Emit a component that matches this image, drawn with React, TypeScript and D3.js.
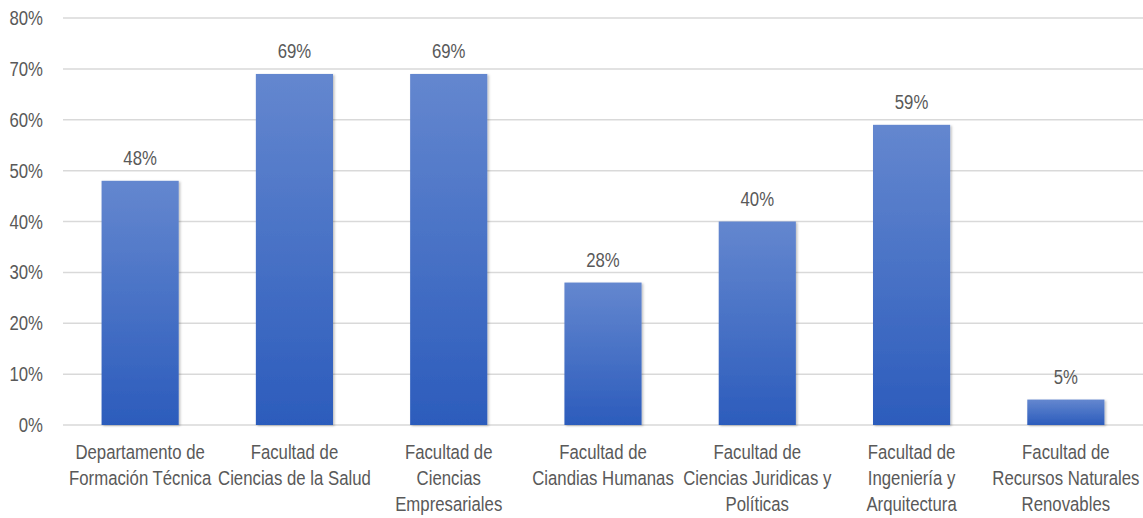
import React from "react";
import * as d3 from "d3";

const categories: string[][] = [
  ["Departamento de", "Formación Técnica"],
  ["Facultad de", "Ciencias de la Salud"],
  ["Facultad de", "Ciencias", "Empresariales"],
  ["Facultad de", "Ciandias Humanas"],
  ["Facultad de", "Ciencias Juridicas y", "Políticas"],
  ["Facultad de", "Ingeniería y", "Arquitectura"],
  ["Facultad de", "Recursos Naturales", "Renovables"],
];
const values: number[] = [48, 69, 69, 28, 40, 59, 5];
const yTicks: number[] = [0, 10, 20, 30, 40, 50, 60, 70, 80];

const W = 1143;
const H = 518;
const margin = { left: 63, right: 0, top: 18, bottom: 93 };
const FONT = "'Liberation Sans', Arial, sans-serif";
const FS = 19.5;
const SX = 0.86;
const TXT = "#595959";

function NText({ x, y, lines, anchor = "middle", dy = 0, lh = 26 }: { x: number; y: number; lines: string[]; anchor?: string; dy?: number; lh?: number }) {
  return (
    <text
      transform={`translate(${x},${y}) scale(${SX},1)`}
      textAnchor={anchor}
      fontSize={FS}
      fill={TXT}
      fontFamily={FONT}
    >
      {lines.map((l, j) => (
        <tspan key={j} x={0} y={j * lh + dy}>
          {l}
        </tspan>
      ))}
    </text>
  );
}

export default function App() {
  const x = d3
    .scaleBand<number>()
    .domain(values.map((_, i) => i))
    .range([margin.left, W - margin.right])
    .paddingInner(0.5)
    .paddingOuter(0.25);
  const y = d3.scaleLinear().domain([0, 80]).range([H - margin.bottom, margin.top]);

  return (
    <svg
      width={W}
      height={H}
      style={{ position: "absolute", left: 0, top: 0, background: "#fff" }}
    >
      <defs>
        <linearGradient id="barGrad" x1="0" y1="0" x2="0" y2="1">
          <stop offset="0%" stopColor="#6487cf" />
          <stop offset="100%" stopColor="#2c5cbc" />
        </linearGradient>
        <filter id="shadow" x="-10%" y="-10%" width="130%" height="130%">
          <feDropShadow dx="1.5" dy="1" stdDeviation="1.2" floodColor="#000" floodOpacity="0.25" />
        </filter>
      </defs>
      {yTicks.map((t) => (
        <g key={t}>
          <line
            x1={margin.left}
            x2={W - margin.right}
            y1={y(t)}
            y2={y(t)}
            stroke="#d9d9d9"
            strokeWidth={1.5}
          />
          <NText x={43} y={y(t) + 7} lines={[`${t}%`]} anchor="end" />
        </g>
      ))}
      {values.map((v, i) => (
        <g key={i}>
          <rect
            x={x(i)!}
            y={y(v)}
            width={x.bandwidth()}
            height={y(0) - y(v)}
            fill="url(#barGrad)"
            filter="url(#shadow)"
          />
          <NText x={x(i)! + x.bandwidth() / 2} y={y(v) - 16} lines={[`${v}%`]} />
        </g>
      ))}
      {categories.map((lines, i) => (
        <NText key={i} x={x(i)! + x.bandwidth() / 2} y={459} lines={lines} lh={26} />
      ))}
    </svg>
  );
}
